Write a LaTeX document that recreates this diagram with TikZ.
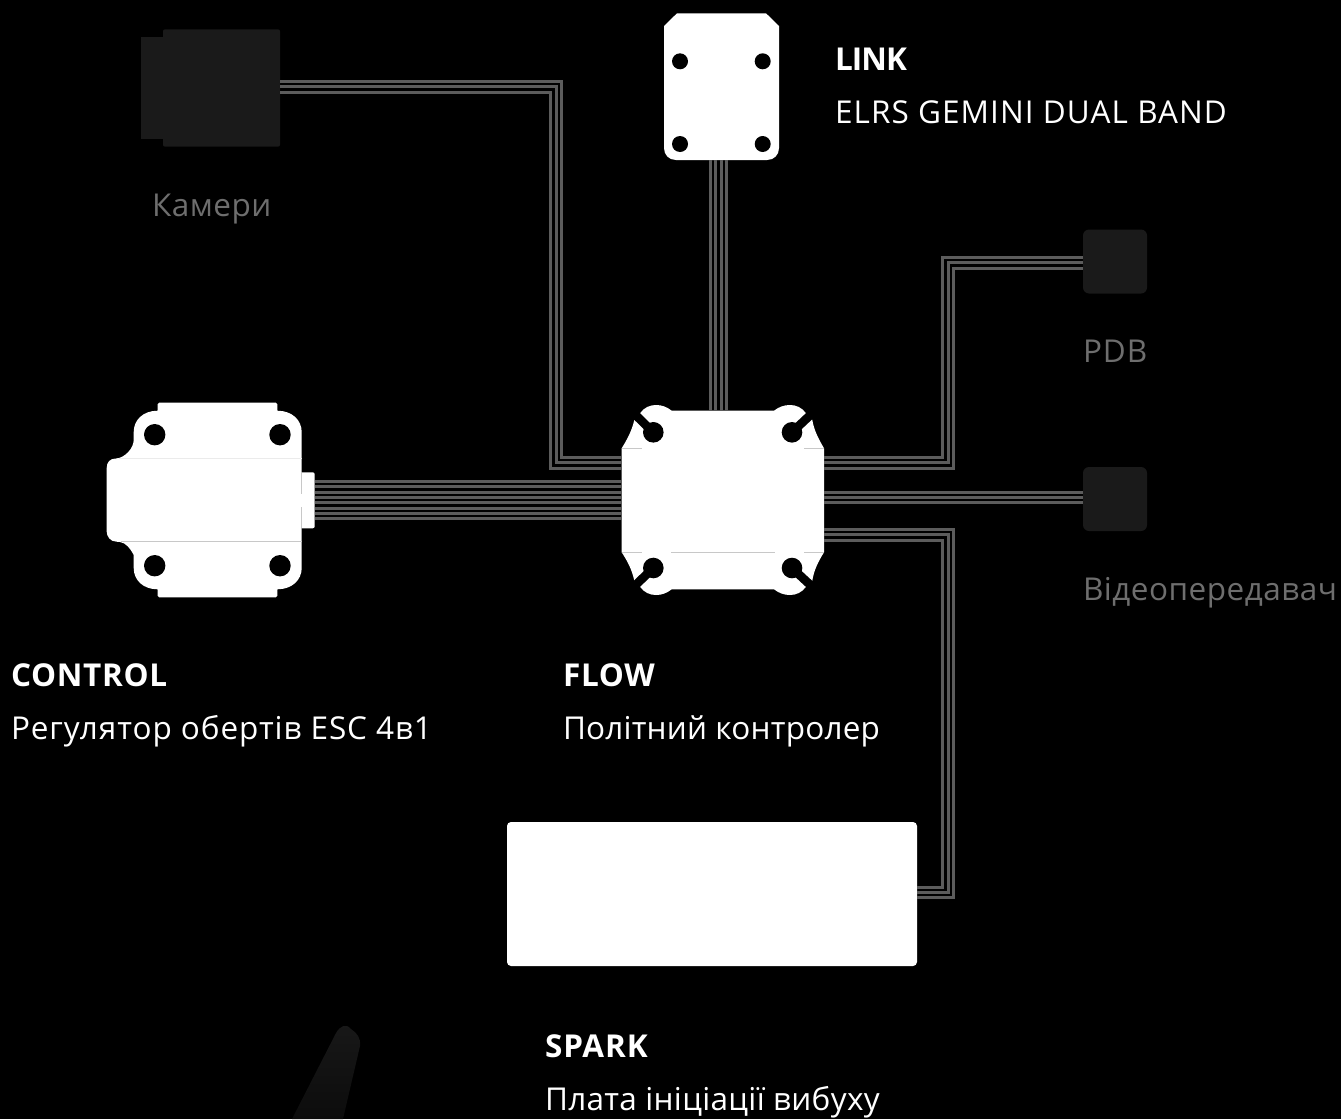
\documentclass[tikz,border=0pt]{standalone}
\usepackage{fontspec}
\setmainfont{Open Sans}
\definecolor{wiregrey}{HTML}{5C5C5C}
\definecolor{darkpart}{HTML}{1A1A1A}
\definecolor{mutedtext}{HTML}{6E6E6E}
\definecolor{seam}{HTML}{C8C8C8}
\definecolor{ghosttop}{HTML}{181818}
\definecolor{ghostbottom}{HTML}{0C0C0C}
\newcommand{\spaced}[1]{\addfontfeature{LetterSpace=#1}}
\tikzset{
  wire/.style={draw=wiregrey,line width=3pt,line cap=butt,miter limit=10},
  anchorbox/.style={rectangle,inner sep=0pt,outer sep=0pt},
  darkbox/.style={anchorbox,fill=darkpart,rounded corners=#1},
  whitebox/.style={anchorbox,fill=white,rounded corners=4pt},
  whitepart/.style={fill=white},
  hole/.style={fill=black},
  seamline/.style={draw=seam,line width=1pt},
  slot/.style={draw=black,line width=8.7pt,line cap=butt},
  txt/.style={anchor=base west,inner sep=0pt,outer sep=0pt,font=\fontsize{31.5}{36}\selectfont\spaced{#1},text=white},
  head/.style={anchor=base west,inner sep=0pt,outer sep=0pt,font=\fontsize{31.5}{36}\selectfont\bfseries\spaced{#1},text=white},
  muted/.style={txt=#1,text=mutedtext}
}
\begin{document}
\begin{tikzpicture}[x=1pt,y=-1pt]
\fill[black] (0,0) rectangle (1341,1119);
\useasboundingbox (0,0) rectangle (1341,1119);

% faint dark shape at the bottom
\shade[top color=ghosttop,bottom color=ghostbottom] (292,1119) -- (336,1033) .. controls (340,1026) and (346,1023) .. (351,1029)
  .. controls (357,1033) and (361,1038) .. (360,1046) -- (343,1119) -- cycle;

% camera
\fill[darkpart] (141,37) rectangle (163,139);
\node[darkbox=2pt,minimum width=117pt,minimum height=117.4pt] (cam) at (221.5,88) {};
% PDB, video transmitter
\node[darkbox=6pt,minimum width=64pt,minimum height=64pt] (pdb) at (1115,261.5) {};
\node[darkbox=6pt,minimum width=64pt,minimum height=64pt] (vtx) at (1115,499) {};
% spark board
\node[whitebox,minimum width=410pt,minimum height=144pt] (spark) at (712,894) {};

% link board
\fill[whitepart] (664,26) -- (677,13.3) -- (766,13.3) -- (779,26) -- (779,148)
  .. controls (779,155) and (774,160) .. (767,160) -- (676,160)
  .. controls (669,160) and (664,155) .. (664,148) -- cycle;
\node[anchorbox,minimum width=115pt,minimum height=146.7pt] (link) at (721.5,86.65) {};
\foreach \p in {(680,61.3),(762.7,61.3),(680,144),(762.7,144)} \fill[hole] \p circle (8);

% ESC
\fill[whitepart] (157.7,410.7) -- (157.7,404.2) .. controls (157.7,403.2) and (158.2,402.7) .. (159.2,402.7)
  -- (275.8,402.7) .. controls (276.8,402.7) and (277.3,403.2) .. (277.3,404.2) -- (277.3,410.7)
  .. controls (292,410.7) and (301.7,420) .. (301.7,432) -- (301.7,568)
  .. controls (301.7,580) and (292,589.3) .. (277.3,589.3)
  -- (277.3,595.8) .. controls (277.3,596.8) and (276.8,597.3) .. (275.8,597.3)
  -- (159.2,597.3) .. controls (158.2,597.3) and (157.7,596.8) .. (157.7,595.8) -- (157.7,589.3)
  .. controls (143,589.3) and (133.7,580) .. (133.7,568) -- (133.7,555)
  .. controls (130,548) and (126,543) .. (120,542) -- (116.7,541.7)
  .. controls (110,541.7) and (106.7,536) .. (106.7,531.7) -- (106.7,468)
  .. controls (106.7,462) and (110,458.5) .. (116,458.5)
  .. controls (125,458) and (133.7,448) .. (133.7,440) -- (133.7,432)
  .. controls (133.7,420) and (143,410.7) .. (157.7,410.7) -- cycle;
\foreach \p in {(154.7,434.7),(280,434.7),(154.7,565.7),(280,565.7)} \fill[hole] \p circle (10.7);
\draw[draw=white!92!black,line width=1pt] (118.5,458.3) -- (301.7,458.3);
\draw[seamline] (121,541.5) -- (301.7,541.5);
\fill[whitepart,rounded corners=2pt] (300,472.3) rectangle (314.7,528.3);
\node[anchorbox,minimum width=13pt,minimum height=56pt] (esc) at (308.2,500.3) {};
\draw[draw=seam,line width=0.8pt] (301.7,472.3) -- (301.7,494) (301.7,507) -- (301.7,528.3);

% flight controller
\fill[whitepart] (621.7,448.3) .. controls (628,438) and (632,430) .. (634.3,420) -- (640,413.3)
  .. controls (644,407.5) and (650,405) .. (656,405) .. controls (662,405) and (667,407) .. (671.7,410.7)
  -- (774,410.7) .. controls (778.7,407) and (784,405) .. (790,405) .. controls (796,405) and (802,407.5) .. (806,413.3)
  -- (812.3,420) .. controls (814,430) and (818,438) .. (824,448.3)
  -- (824,552.3) .. controls (818,562) and (814,570) .. (812.3,580.7) -- (806,586.7)
  .. controls (802,592.5) and (796,595) .. (790,595) .. controls (784,595) and (778.7,593) .. (774,589.3)
  -- (671.7,589.3) .. controls (667,593) and (662,595) .. (656,595) .. controls (650,595) and (644,592.5) .. (640,586.7)
  -- (634.3,580.7) .. controls (632,570) and (628,562) .. (621.7,552.3) -- cycle;
\node[anchorbox,minimum width=202.3pt,minimum height=178.6pt] (fc) at (722.85,500) {};
\draw[slot] (653.3,432.3) -- (633,412.5);
\draw[slot] (792,432.3) -- (813,412.5);
\draw[slot] (653.3,568) -- (633,587.5);
\draw[slot] (792,568) -- (813,587.5);
\foreach \p in {(653.3,432.3),(792,432.3),(653.3,568),(792,568)} \fill[hole] \p circle (10.3);
\draw[seamline] (621.7,448.3) -- (641.7,448.3) (804,448.3) -- (824,448.3);
\draw[seamline] (621.7,552.3) -- (641.7,552.3) (671,552.3) -- (774.7,552.3) (804,552.3) -- (824,552.3);

% camera wires
\draw[wire] (cam.east |- 0,81.5) -- (561.5,81.5) -- (561.5,457.5) -- (fc.west |- 0,457.5);
\draw[wire] (cam.east |- 0,86.5) -- (556.5,86.5) -- (556.5,462.5) -- (fc.west |- 0,462.5);
\draw[wire] (cam.east |- 0,92.5) -- (550.5,92.5) -- (550.5,468.5) -- (fc.west |- 0,468.5);
% link wires
\foreach \x in {710.5,715.5,721.5,726.5}
  \draw[wire] (\x,0 |- link.south) -- (\x,0 |- fc.north);
% ESC wires
\foreach \y in {481.5,486.5,492.5,497.5,502.5,508.5,513.5,518.5}
  \draw[wire] (esc.east |- 0,\y) -- (fc.west |- 0,\y);
% PDB wires
\draw[wire] (fc.east |- 0,457.5) -- (942.5,457.5) -- (942.5,257.5) -- (pdb.west |- 0,257.5);
\draw[wire] (fc.east |- 0,462.5) -- (948,462.5) -- (948,262.5) -- (pdb.west |- 0,262.5);
\draw[wire] (fc.east |- 0,468.5) -- (953.5,468.5) -- (953.5,268.5) -- (pdb.west |- 0,268.5);
% video wires
\foreach \y in {492.5,497.5,502.5}
  \draw[wire] (fc.east |- 0,\y) -- (vtx.west |- 0,\y);
% spark wires
\draw[wire] (fc.east |- 0,540.5) -- (942.5,540.5) -- (942.5,887.5) -- (spark.east |- 0,887.5);
\draw[wire] (fc.east |- 0,534.5) -- (948,534.5) -- (948,892.5) -- (spark.east |- 0,892.5);
\draw[wire] (fc.east |- 0,529.5) -- (953.5,529.5) -- (953.5,897.5) -- (spark.east |- 0,897.5);

% labels
\node[muted=1.6] (tcam) at (152,216.5) {Камери};
\node[head=-3] (tlink) at (835,70.5) {LINK};
\node[txt=3.4] (tlink2) at (835,123.5) {ELRS GEMINI DUAL BAND};
\node[muted=3] (tpdb) at (1083,362.5) {PDB};
\node[muted=1.6] (tvtx) at (1083,600.5) {Відеопередавач};
\node[head=2.2] (tesc) at (11,686.5) {CONTROL};
\node[txt=2.9] (tesc2) at (11,739.5) {Регулятор обертів ESC 4в1};
\node[head=2.4] (tfc) at (563,686.5) {FLOW};
\node[txt=0.7] (tfc2) at (563,739.5) {Політний контролер};
\node[head=3] (tsp) at (545,1057.5) {SPARK};
\node[txt=1] (tsp2) at (545,1110.5) {Плата ініціації вибуху};
\end{tikzpicture}
\end{document}
